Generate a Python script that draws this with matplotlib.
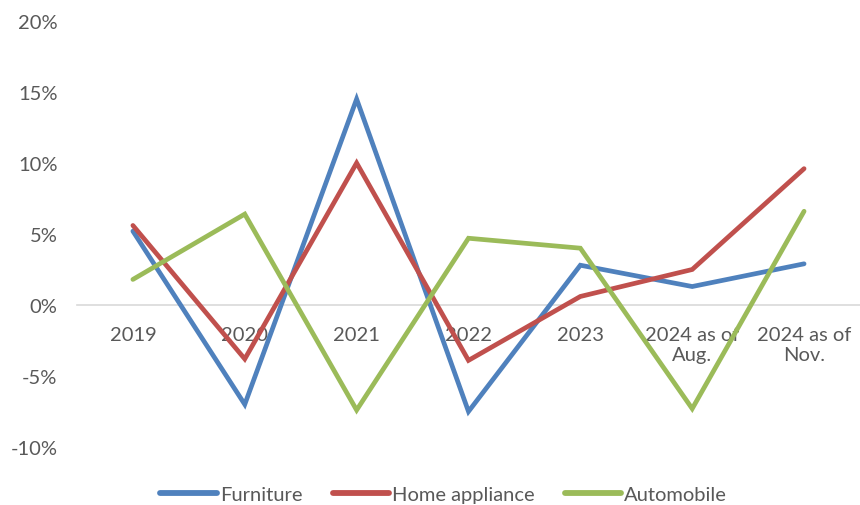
import matplotlib
matplotlib.use("Agg")
import matplotlib.pyplot as plt
from matplotlib.ticker import FuncFormatter

categories = ["2019", "2020", "2021", "2022", "2023", "2024 as of\nAug.", "2024 as of\nNov."]
furniture = [5.2, -7.0, 14.5, -7.5, 2.8, 1.3, 2.9]
home_appliance = [5.6, -3.8, 10.0, -3.9, 0.6, 2.5, 9.6]
automobile = [1.8, 6.4, -7.4, 4.7, 4.0, -7.3, 6.6]
y_ticks = [-10, -5, 0, 5, 10, 15, 20]

plt.rcParams["font.family"] = ["Lato", "DejaVu Sans"]
text_color = "#595959"

fig = plt.figure(figsize=(8.6, 5.06), dpi=100)
ax = fig.add_axes([0.0895, 0.1146, 0.9105, 0.842])

x = list(range(len(categories)))
series = [
    ("Furniture", furniture, "#4F81BD"),
    ("Home appliance", home_appliance, "#C0504D"),
    ("Automobile", automobile, "#9BBB59"),
]
for name, vals, color in series:
    ax.plot(x, vals, color=color, lw=3.4, label=name,
            solid_capstyle="round", solid_joinstyle="miter")

ax.set_xlim(-0.5, len(categories) - 0.5)
ax.set_ylim(-10, 20)
ax.set_yticks(y_ticks)
ax.yaxis.set_major_formatter(FuncFormatter(lambda v, p: f"{int(v)}%"))
ax.set_xticks(x)
ax.set_xticklabels(categories, linespacing=1.25)

for s in ["top", "right", "left"]:
    ax.spines[s].set_visible(False)
ax.spines["bottom"].set_position(("data", 0))
ax.spines["bottom"].set_color("#D9D9D9")
ax.spines["bottom"].set_linewidth(1.2)
ax.spines["bottom"].set_zorder(0)

ax.tick_params(axis="both", length=0, labelsize=14.5, labelcolor=text_color)
ax.tick_params(axis="x", pad=15)
ax.tick_params(axis="y", pad=14)

leg = fig.legend(loc="lower center", bbox_to_anchor=(0.516, -0.032), ncol=3,
                 frameon=False, fontsize=14.5, handlelength=2.8,
                 handletextpad=0.15, columnspacing=1.5)
for line in leg.get_lines():
    line.set_linewidth(4.2)
    line.set_solid_capstyle("round")
for t in leg.get_texts():
    t.set_color(text_color)

fig.savefig("out.png", dpi=100)
